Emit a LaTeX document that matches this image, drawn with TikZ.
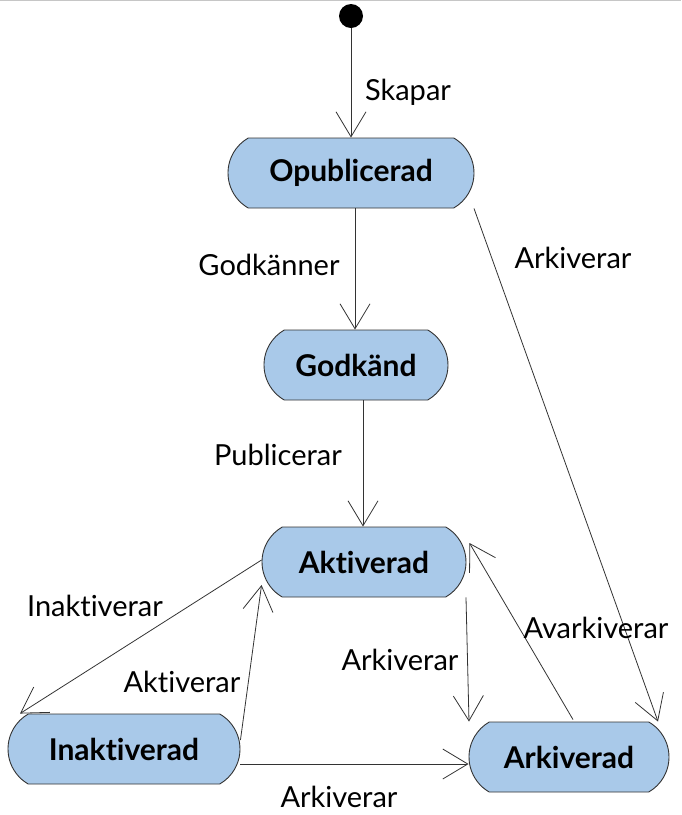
\documentclass[tikz,border=0pt]{standalone}
\usepackage{fontspec}
\setmainfont{Lato}[Ligatures={NoCommon}]
\usetikzlibrary{shapes.misc,arrows.meta}

\definecolor{statefill}{RGB}{169,201,233}
\definecolor{lineclr}{RGB}{51,51,51}

\tikzset{
	state/.style={shape=rounded rectangle, rounded rectangle arc length=120,
		draw=lineclr, fill=statefill, line width=0.9pt, minimum height=70pt,
		inner sep=0pt, font=\fontsize{30}{34}\selectfont\bfseries},
	trans/.style={draw=lineclr, line width=0.8pt,
		-{Straight Barb[length=25pt,width=30pt,line width=0.8pt]}},
	lbl/.style={font=\fontsize{29}{33}\selectfont, inner sep=0pt}
}

\begin{document}
\begin{tikzpicture}[x=1pt,y=-1pt]
	\useasboundingbox (0,0) rectangle (681,815);
	\draw[gray!45, line width=1pt] (0,0.5) -- (681,0.5);

	\node[shape=circle,fill=black,minimum size=24pt,inner sep=0pt] (start) at (351,16) {};
	\node[state,minimum width=246pt] (opub)  at (351,173) {Opublicerad};
	\node[state,minimum width=184pt] (godk)  at (356,365) {Godkänd};
	\node[state,minimum width=204pt] (akt)   at (364,562) {Aktiverad};
	\node[state,minimum width=232pt] (inakt) at (124,749) {Inaktiverad};
	\node[state,minimum width=200pt] (ark)   at (569,757) {Arkiverad};

	\path[trans] (start) -- (opub.north);
	\path[trans] ([shift={(4,0)}]opub.south) -- ([shift={(-1,0)}]godk.north);
	\path[trans] ([shift={(7,0)}]godk.south) -- ([shift={(-1,0)}]akt.north);
	\path[trans] ([shift={(123,0)}]opub.south) -- ([shift={(89,0)}]ark.north);
	\path[trans] ([shift={(0,-2)}]akt.west) -- ([shift={(-104,0)}]inakt.north);
	\path[trans] ([shift={(0,-9)}]inakt.east) -- ([shift={(0,23)}]akt.west);
	\path[trans] ([shift={(102,0)}]akt.south) -- ([shift={(-100,0)}]ark.north);
	\path[trans] ([shift={(4,-2)}]ark.north) -- ([shift={(3,-19)}]akt.east);
	\path[trans] ([shift={(0,15)}]inakt.east) -- ([shift={(0,7)}]ark.west);

	\node[lbl] (skapar)   at (408,92)  {Skapar};
	\node[lbl] (godkanner) at (269,265) {Godkänner};
	\node[lbl] (publ)     at (278,455) {Publicerar};
	\node[lbl] (arkA)     at (573,258) {Arkiverar};
	\node[lbl] (inaktlbl) at (95,606)  {Inaktiverar};
	\node[lbl] (aktlbl)   at (182,682) {Aktiverar};
	\node[lbl] (arkB)     at (400,660) {Arkiverar};
	\node[lbl] (avark)    at (596,628) {Avarkiverar};
	\node[lbl] (arkC)     at (339,797) {Arkiverar};
\end{tikzpicture}
\end{document}
